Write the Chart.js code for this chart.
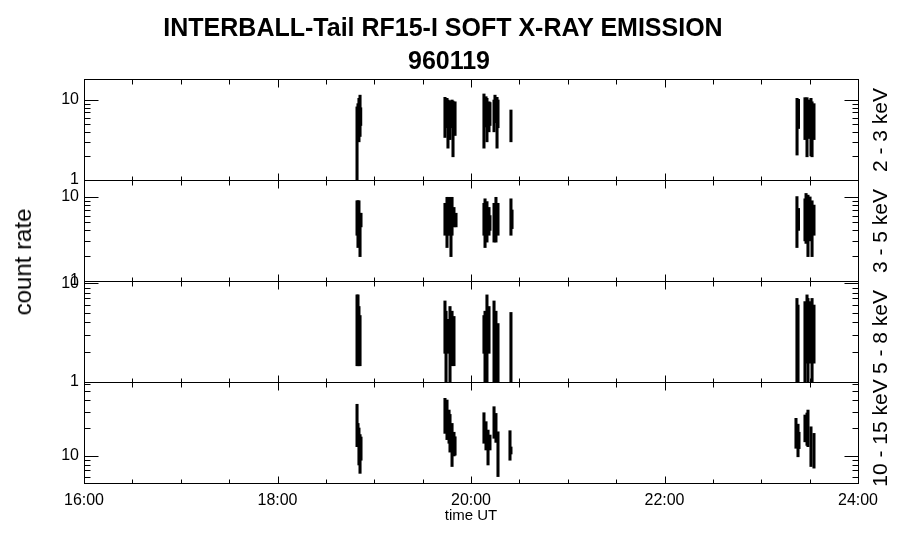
<!DOCTYPE html>
<html>
<head>
<meta charset="utf-8">
<script src="https://cdn.jsdelivr.net/npm/chart.js@4.4.1/dist/chart.umd.min.js"></script>
<style>
html,body{margin:0;padding:0;background:#fff;}
#wrap{position:relative;width:900px;height:548px;overflow:hidden;font-family:"Liberation Sans",Arial,sans-serif;color:#000;background:#fff;}
#c{position:absolute;left:0;top:0;}
.t{position:absolute;white-space:nowrap;transform:translate(-50%,-50%);}
.rot{transform:translate(-50%,-50%) rotate(-90deg);}
</style>
</head>
<body>
<div id="wrap">
<canvas id="c" width="900" height="548"></canvas>
<div class="t" id="title1" style="left:443px;top:27px;font-weight:bold;font-size:25px;line-height:25px;">INTERBALL-Tail RF15-I SOFT X-RAY EMISSION</div>
<div class="t" id="title2" style="left:449px;top:60px;font-weight:bold;font-size:25px;line-height:25px;">960119</div>
<div class="t rot" id="ylab" style="left:23px;top:262px;font-size:24px;line-height:24px;">count rate</div>
</div>
<script>
// ---------------- data ----------------
const panelLabels = ['2 - 3 keV', '3 - 5 keV', '5 - 8 keV', '10 - 15 keV'];
const panelMin = [1, 1, 1, 5.12];
const panelMax = [18.3, 15.9, 10.5, 62.5];

// log-axis tick values and which of them carry a label
const yTickValues = [1, 2, 3, 4, 5, 6, 7, 8, 9, 10, 20, 30, 40, 50, 60, 70, 80, 90];
const yLabelValues = [1, 10];
// time axis (hours UT)
const xTickHours = [16, 16.5, 17, 17.5, 18, 18.5, 19, 19.5, 20, 20.5, 21, 21.5, 22, 22.5, 23, 23.5, 24];
const xLabelHours = [16, 18, 20, 22, 24];

// panel 1 : 2 - 3 keV  (time in hours, low / high count rate of each sample)
const p1Time = [18.822, 18.832, 18.842, 18.853, 18.860, 19.731, 19.752, 19.762, 19.783, 19.804, 19.814, 19.835, 20.134, 20.155, 20.165, 20.186, 20.196, 20.238, 20.248, 20.269, 20.279, 20.413, 23.370, 23.385, 23.452, 23.463, 23.473, 23.494, 23.514, 23.525, 23.545];
const p1Low  = [1.0, 4.5, 3.0, 3.5, 4.8, 3.4, 4.5, 2.5, 3.2, 4.5, 1.95, 3.6, 2.5, 4.6, 3.0, 4.0, 4.8, 4.0, 5.2, 2.5, 4.5, 3.0, 2.05, 4.4, 3.2, 4.0, 1.95, 3.3, 2.0, 1.95, 3.2];
const p1High = [8.2, 9.0, 10.5, 11.5, 8.0, 10.8, 10.5, 10.0, 9.8, 10.0, 9.7, 9.5, 11.9, 11.0, 10.5, 9.5, 9.3, 10.0, 11.5, 10.8, 10.0, 7.5, 10.5, 10.2, 10.7, 10.3, 10.7, 10.0, 10.5, 9.5, 9.0];

// panel 2 : 3 - 5 keV
const p2Time = [18.822, 18.832, 18.842, 18.853, 18.863, 19.731, 19.752, 19.762, 19.783, 19.793, 19.804, 19.824, 19.845, 20.134, 20.145, 20.165, 20.186, 20.196, 20.238, 20.258, 20.279, 20.413, 20.424, 23.369, 23.385, 23.452, 23.463, 23.483, 23.504, 23.525, 23.545];
const p2Low  = [3.5, 2.5, 4.4, 1.95, 4.4, 3.5, 2.5, 3.5, 3.5, 1.95, 3.5, 4.4, 4.4, 3.5, 2.5, 2.9, 3.5, 4.0, 2.9, 2.9, 3.5, 3.5, 4.2, 2.5, 4.0, 3.0, 2.8, 1.95, 3.0, 1.95, 3.5];
const p2High = [9.0, 9.0, 9.0, 6.4, 6.4, 8.4, 9.9, 9.9, 9.9, 8.4, 9.9, 7.5, 6.4, 8.4, 9.5, 8.8, 7.5, 6.0, 8.4, 9.9, 8.4, 9.5, 7.0, 10.1, 7.3, 9.5, 11.0, 10.5, 10.0, 9.0, 8.0];

// panel 3 : 5 - 8 keV
const p3Time = [18.822, 18.832, 18.842, 18.853, 19.731, 19.742, 19.762, 19.783, 19.804, 19.824, 20.134, 20.145, 20.165, 20.186, 20.238, 20.258, 20.279, 20.413, 23.369, 23.380, 23.452, 23.473, 23.483, 23.504, 23.525, 23.545];
const p3Low  = [1.46, 1.46, 1.46, 1.46, 1.95, 1.0, 1.95, 1.0, 1.46, 1.46, 1.95, 1.0, 1.0, 1.95, 1.0, 1.0, 1.0, 1.0, 1.0, 1.0, 1.0, 1.55, 1.0, 1.55, 1.0, 1.55];
const p3High = [7.6, 7.6, 5.8, 4.7, 6.6, 5.2, 4.3, 5.8, 5.2, 4.6, 4.7, 5.2, 7.6, 5.8, 6.6, 5.2, 3.9, 5.05, 7.0, 6.0, 6.5, 7.6, 7.0, 6.5, 7.0, 6.0];

// panel 4 : 10 - 15 keV
const p4Time = [18.822, 18.832, 18.842, 18.853, 18.863, 19.731, 19.752, 19.773, 19.783, 19.804, 19.824, 19.835, 20.134, 20.155, 20.176, 20.196, 20.238, 20.258, 20.279, 20.403, 20.413, 23.359, 23.380, 23.390, 23.452, 23.473, 23.483, 23.514, 23.545];
const p4Low  = [12.6, 12.6, 8.0, 6.5, 9.0, 17.5, 15.0, 13.7, 11.0, 7.7, 10.0, 10.2, 13.7, 11.6, 8.0, 11.6, 15.5, 14.0, 6.0, 9.0, 10.5, 12.1, 9.8, 12.0, 14.2, 13.0, 12.6, 7.7, 7.4];
const p4High = [36, 22.4, 20, 17, 16, 41.7, 40, 31.2, 28, 22.4, 18, 16.1, 29.2, 23.4, 19, 16.8, 33.9, 28.7, 18.2, 18.7, 12.5, 25.4, 22, 18, 27.6, 29, 31.2, 20.6, 17.5];

// ---------------- chart ----------------
const FONT = '"Liberation Sans", Arial, sans-serif';
const panelIds = ['y1', 'y2', 'y3', 'y4'];
const panels = [[p1Time, p1Low, p1High], [p2Time, p2Low, p2High], [p3Time, p3Low, p3High], [p4Time, p4Low, p4High]];

const datasets = panels.map((p, i) => ({
  type: 'bar',
  yAxisID: panelIds[i],
  data: p[0].map((t, k) => ({x: t, y: [p[1][k], p[2][k]]})),
  backgroundColor: '#000',
  borderWidth: 0,
  barThickness: 2.4,
  grouped: false
}));

function yAxis(i) {
  return {
    type: 'logarithmic',
    position: 'left',
    stack: 'panels',
    stackWeight: 1,
    min: panelMin[i],
    max: panelMax[i],
    beginAtZero: false,
    grid: {display: false, drawTicks: false, tickLength: 0},
    border: {display: false},
    afterBuildTicks: s => {
      s.ticks = yTickValues.filter(v => v >= s.min - 1e-9 && v <= s.max + 1e-9).map(v => ({value: v}));
    },
    afterFit: s => { s.width = 84; },
    ticks: {
      autoSkip: false,
      padding: 5,
      color: '#000',
      font: {size: 16, family: FONT},
      callback: v => yLabelValues.includes(v) ? String(v) : ''
    }
  };
}

const scales = {
  x: {
    type: 'linear',
    position: 'bottom',
    min: 16,
    max: 24,
    offset: false,
    grid: {display: false, drawTicks: false, tickLength: 0},
    border: {display: false},
    afterBuildTicks: s => { s.ticks = xTickHours.map(v => ({value: v})); },
    afterFit: s => { s.height = 65; },
    ticks: {
      autoSkip: false,
      maxRotation: 0,
      padding: 8,
      color: '#000',
      font: {size: 16, family: FONT},
      callback: v => xLabelHours.includes(v) ? v + ':00' : ''
    },
    title: {display: true, text: 'time UT', color: '#000', font: {size: 15, family: FONT}, padding: {top: 0, bottom: 23}}
  }
};
// stacked left axes are laid out in reverse order of definition: define bottom panel first
for (let i = panelIds.length - 1; i >= 0; i--) { scales[panelIds[i]] = yAxis(i); }

const framePlugin = {
  id: 'frame',
  afterDraw(chart) {
    const ctx = chart.ctx, ca = chart.chartArea, xs = chart.scales.x;
    ctx.save();
    ctx.strokeStyle = '#000';
    ctx.lineWidth = 1;
    const L = Math.round(ca.left) + 0.5, R = Math.round(ca.right) + 0.5;
    panelIds.forEach(id => {
      const s = chart.scales[id];
      const T = Math.round(s.top) + 0.5, B = Math.round(s.bottom) + 0.5;
      ctx.strokeRect(L, T, R - L, B - T);
      ctx.beginPath();
      xs.ticks.forEach(t => {
        const px = Math.round(xs.getPixelForValue(t.value)) + 0.5;
        const major = t.value % 2 === 0;
        ctx.moveTo(px, T); ctx.lineTo(px, T + (major ? 8 : 5));
        ctx.moveTo(px, B); ctx.lineTo(px, B - (major ? 7 : 4));
      });
      s.ticks.forEach(t => {
        const py = Math.round(s.getPixelForValue(t.value)) + 0.5;
        const lg = Math.log10(t.value);
        const major = Math.abs(lg - Math.round(lg)) < 1e-9;
        const len = major ? 14 : 6;
        ctx.moveTo(L, py); ctx.lineTo(L + len, py);
        ctx.moveTo(R, py); ctx.lineTo(R - len, py);
      });
      ctx.stroke();
    });
    ctx.restore();
  }
};

const chart = new Chart(document.getElementById('c'), {
  type: 'bar',
  data: {datasets},
  options: {
    responsive: false,
    animation: false,
    events: [],
    layout: {padding: {top: 79, right: 42, left: 0, bottom: 0}},
    plugins: {legend: {display: false}, tooltip: {enabled: false}, title: {display: false}},
    scales
  },
  plugins: [framePlugin]
});

// right-hand panel labels, centred on each panel of the chart
const wrap = document.getElementById('wrap');
panelIds.forEach((id, i) => {
  const s = chart.scales[id];
  const d = document.createElement('div');
  d.className = 't rot';
  d.style.left = '879px';
  d.style.top = ((s.top + s.bottom) / 2) + 'px';
  d.style.fontSize = '21px';
  d.style.lineHeight = '21px';
  d.textContent = panelLabels[i];
  wrap.appendChild(d);
});
</script>
</body>
</html>
